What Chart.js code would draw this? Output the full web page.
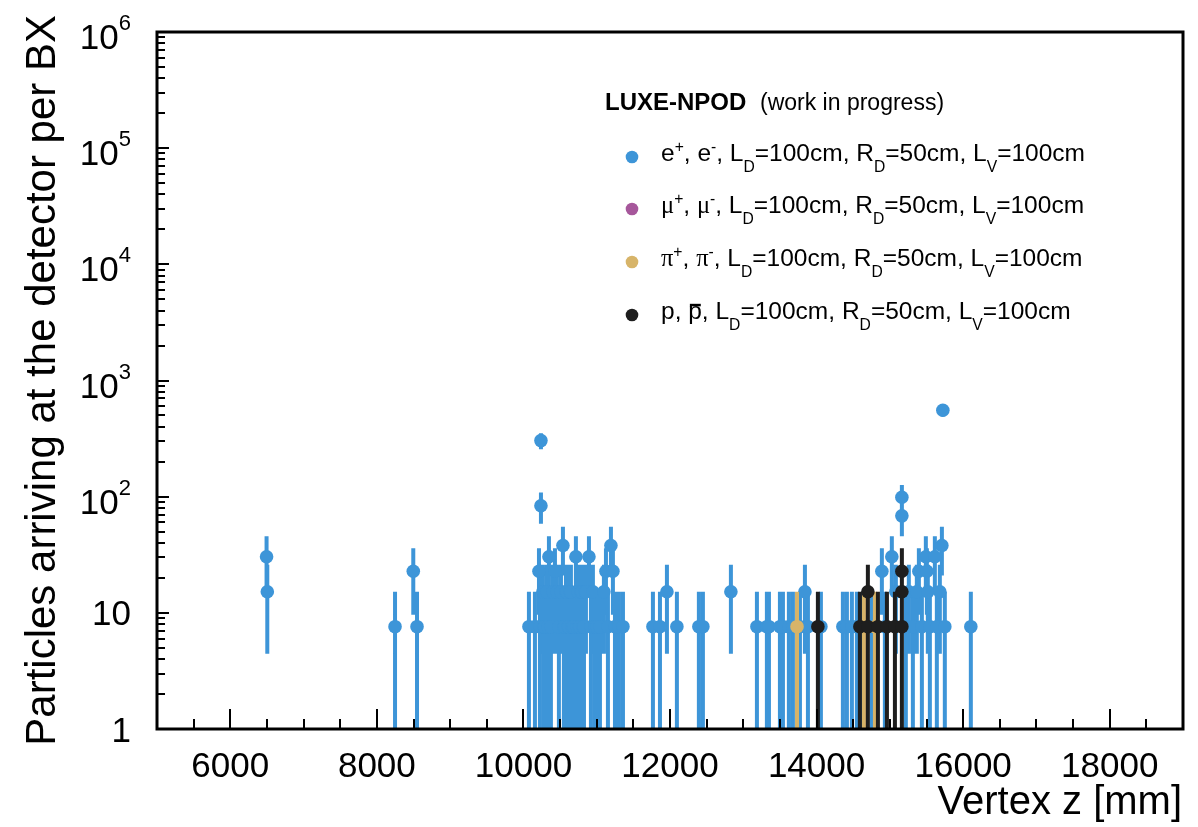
<!DOCTYPE html>
<html>
<head>
<meta charset="utf-8">
<title>Particles arriving at the detector per BX</title>
<script src="https://cdn.jsdelivr.net/npm/chart.js@4.4.1/dist/chart.umd.min.js"></script>
<style>
  html, body { margin: 0; padding: 0; background: #ffffff; }
  #plot { display: block; }
</style>
</head>
<body>
<canvas id="plot" width="1198" height="827"></canvas>
<script>
// ---------- axes ----------
const zRange = [5000, 19000];          // vertex z [mm]
const countRange = [1, 1e6];           // particles per BX (log)
const zTickLabels = [6000, 8000, 10000, 12000, 14000, 16000, 18000];
const zMinorStep = 500;
const countDecades = [0, 1, 2, 3, 4, 5, 6];

// one simulated particle corresponds to this many particles per BX;
// the vertical error bars are the Poisson errors of the weighted counts
const EVENT_WEIGHT = 7.6;

// ---------- e+, e- ----------
const electronZ = [
  6495, 6505, 8248, 8497, 8548,
  10075, 10157, 10212, 10225, 10239, 10239, 10266, 10280, 10293, 10321, 10335, 10348, 10375, 10403,
  10430, 10457, 10484, 10512, 10539, 10552, 10566, 10580, 10594, 10608, 10621, 10635, 10648, 10662,
  10676, 10690, 10716, 10730, 10744, 10757, 10771, 10785, 10798, 10812, 10826, 10840, 10853, 10894,
  10921, 10948, 10976, 11003, 11044, 11098, 11126, 11153, 11194, 11221, 11249, 11303, 11358,
  11767, 11863, 11958, 12094, 12394, 12449, 12831,
  13186, 13322, 13350, 13500, 13541, 13622, 13677, 13773, 13841, 13882, 14059,
  14359, 14414, 14482, 14550, 14632, 14755, 14891, 14932, 15027, 15082, 15164, 15164,
  15218, 15259, 15314, 15368, 15396, 15437, 15491, 15505, 15518, 15546, 15614, 15641,
  15682, 15710, 15723, 15750, 16105
];
const electronCount = [
  30.4, 15.2, 7.6, 22.8, 7.6,
  7.6, 7.6, 22.8, 7.6, 304, 83.6, 15.2, 7.6, 7.6, 15.2, 7.6, 30.4, 7.6, 15.2,
  22.8, 15.2, 7.6, 15.2, 38, 7.6, 7.6, 15.2, 15.2, 7.6, 7.6, 15.2, 15.2, 7.6,
  7.6, 7.6, 30.4, 7.6, 15.2, 7.6, 7.6, 15.2, 15.2, 7.6, 7.6, 15.2, 15.2, 30.4,
  7.6, 15.2, 7.6, 7.6, 7.6, 15.2, 22.8, 7.6, 38, 22.8, 7.6, 7.6, 7.6,
  7.6, 7.6, 15.2, 7.6, 7.6, 7.6, 15.2,
  7.6, 7.6, 7.6, 7.6, 7.6, 7.6, 7.6, 7.6, 15.2, 7.6, 7.6,
  7.6, 7.6, 7.6, 7.6, 7.6, 7.6, 22.8, 7.6, 30.4, 15.2, 98.8, 68.4,
  7.6, 15.2, 7.6, 15.2, 22.8, 7.6, 30.4, 22.8, 15.2, 7.6, 30.4, 7.6,
  15.2, 38, 555, 7.6, 7.6
];

// ---------- mu+, mu- ----------
const muonZ = [14687];
const muonCount = [7.6];

// ---------- pi+, pi- ----------
const pionZ = [13733, 14646, 14796];
const pionCount = [7.6, 7.6, 7.6];

// ---------- p, pbar ----------
const protonZ = [14018, 14591, 14700, 14700, 14837, 14960, 15069, 15164, 15164, 15164];
const protonCount = [7.6, 7.6, 7.6, 15.2, 7.6, 7.6, 7.6, 7.6, 15.2, 22.8];

// ---------- styling ----------
const COLORS = {
  electron: '#3d95d8',
  muon: '#a6579b',
  pion: '#d7b469',
  proton: '#1e1e1e'
};
const SANS = "'Liberation Sans', Arial, Helvetica, sans-serif";
const SERIF = "'Liberation Serif', 'DejaVu Serif', serif";
const MARKER_RADIUS = 6.8;

function toPoints(zs, counts) {
  return zs.map((z, i) => ({ x: z, y: counts[i] }));
}

function makeDataset(label, zs, counts, color, order) {
  return {
    label,
    data: toPoints(zs, counts),
    backgroundColor: color,
    borderColor: color,
    pointRadius: MARKER_RADIUS,
    pointHoverRadius: MARKER_RADIUS,
    pointBorderWidth: 0,
    order
  };
}

// vertical Poisson error bars, drawn just before each dataset's markers
const errorBarPlugin = {
  id: 'errorBars',
  beforeDatasetDraw(chart, args) {
    const { ctx, chartArea: a, scales: { y } } = chart;
    const ds = chart.data.datasets[args.index];
    const meta = args.meta;
    ctx.save();
    ctx.beginPath();
    ctx.rect(a.left, a.top, a.right - a.left, a.bottom - a.top);
    ctx.clip();
    ctx.strokeStyle = ds.borderColor;
    ctx.lineWidth = 4;
    ctx.lineCap = 'butt';
    ctx.beginPath();
    ds.data.forEach((pt, i) => {
      const sigma = Math.sqrt(pt.y * EVENT_WEIGHT);
      const lo = Math.max(pt.y - sigma, countRange[0]);
      const hi = pt.y + sigma;
      const px = meta.data[i].x;
      ctx.moveTo(px, y.getPixelForValue(lo));
      ctx.lineTo(px, y.getPixelForValue(hi));
    });
    ctx.stroke();
    ctx.restore();
  }
};

// text with super/subscripts
function drawRich(ctx, x, y, parts, size) {
  let cx = x;
  ctx.textAlign = 'left';
  ctx.textBaseline = 'alphabetic';
  for (const p of parts) {
    let fs = size, dy = 0;
    if (p.sup) { fs = size * 0.64; dy = -size * 0.38; }
    if (p.sub) { fs = size * 0.64; dy = size * 0.45; }
    ctx.font = `${fs}px ${p.greek ? SERIF : SANS}`;
    ctx.fillText(p.t, cx, y + dy);
    const w = ctx.measureText(p.t).width;
    if (p.bar) ctx.fillRect(cx + w * 0.12, y - size * 0.62, w * 0.8, 2.5);
    cx += w;
  }
}

const detectorTail = [
  { t: ', L' }, { t: 'D', sub: true }, { t: '=100cm, R' }, { t: 'D', sub: true },
  { t: '=50cm, L' }, { t: 'V', sub: true }, { t: '=100cm' }
];
const legendEntries = [
  { color: COLORS.electron, parts: [{ t: 'e' }, { t: '+', sup: true }, { t: ', e' }, { t: '-', sup: true }, ...detectorTail] },
  { color: COLORS.muon, parts: [{ t: 'μ', greek: true }, { t: '+', sup: true }, { t: ', ' }, { t: 'μ', greek: true }, { t: '-', sup: true }, ...detectorTail] },
  { color: COLORS.pion, parts: [{ t: 'π', greek: true }, { t: '+', sup: true }, { t: ', ' }, { t: 'π', greek: true }, { t: '-', sup: true }, ...detectorTail] },
  { color: COLORS.proton, parts: [{ t: 'p, ' }, { t: 'p', bar: true }, ...detectorTail] }
];

// frame, ticks, labels, titles and legend
const framePlugin = {
  id: 'frameAxes',
  afterDraw(chart) {
    const { ctx, chartArea: a, scales: { x, y } } = chart;
    ctx.save();
    ctx.fillStyle = '#000';
    ctx.strokeStyle = '#000';

    // tick marks
    ctx.lineWidth = 2;
    ctx.beginPath();
    for (let v = zRange[0] + zMinorStep; v < zRange[1]; v += zMinorStep) {
      const px = Math.round(x.getPixelForValue(v));
      const len = (v % 2000 === 0) ? 20 : 10;
      ctx.moveTo(px, a.bottom);
      ctx.lineTo(px, a.bottom - len);
    }
    for (let d = countDecades[0]; d < countDecades[countDecades.length - 1]; d++) {
      for (let k = 1; k <= 9; k++) {
        const py = Math.round(y.getPixelForValue(k * Math.pow(10, d)));
        const len = k === 1 ? 12 : 8;
        ctx.moveTo(a.left, py);
        ctx.lineTo(a.left + len, py);
      }
    }
    ctx.stroke();

    // frame
    ctx.lineWidth = 3;
    ctx.strokeRect(a.left, a.top, a.right - a.left, a.bottom - a.top);

    // x tick labels
    ctx.font = `35px ${SANS}`;
    ctx.textAlign = 'center';
    ctx.textBaseline = 'alphabetic';
    zTickLabels.forEach(v => {
      ctx.fillText(String(v), x.getPixelForValue(v), 777);
    });

    // y tick labels
    const labelRight = 131;
    countDecades.forEach(d => {
      const py = y.getPixelForValue(Math.pow(10, d));
      ctx.textAlign = 'right';
      if (d === 0 || d === 1) {
        ctx.font = `35px ${SANS}`;
        ctx.fillText(d === 0 ? '1' : '10', labelRight, py + 12.5);
      } else {
        ctx.font = `22px ${SANS}`;
        const sup = String(d);
        const sw = ctx.measureText(sup).width;
        ctx.fillText(sup, labelRight, py + 17 - 19);
        ctx.font = `35px ${SANS}`;
        ctx.fillText('10', labelRight - sw, py + 17);
      }
    });

    // axis titles
    ctx.font = `40px ${SANS}`;
    ctx.textAlign = 'right';
    ctx.fillText('Vertex z [mm]', 1182, 814);

    ctx.save();
    ctx.translate(55, 15);
    ctx.rotate(-Math.PI / 2);
    ctx.font = `42px ${SANS}`;
    ctx.textAlign = 'right';
    ctx.fillText('Particles arriving at the detector per BX', 0, 0);
    ctx.restore();

    // legend
    ctx.textAlign = 'left';
    ctx.font = `bold 24px ${SANS}`;
    ctx.fillText('LUXE-NPOD', 605, 110);
    ctx.font = `23px ${SANS}`;
    ctx.fillText('(work in progress)', 760, 110);

    const baselines = [161, 213, 266, 319];
    legendEntries.forEach((e, i) => {
      const by = baselines[i];
      ctx.fillStyle = e.color;
      ctx.beginPath();
      ctx.arc(632, by - 4, 6.3, 0, Math.PI * 2);
      ctx.fill();
      ctx.fillStyle = '#000';
      drawRich(ctx, 661, by, e.parts, 24.5);
    });

    ctx.restore();
  }
};

new Chart(document.getElementById('plot').getContext('2d'), {
  type: 'scatter',
  data: {
    datasets: [
      makeDataset('e+, e-', electronZ, electronCount, COLORS.electron, 4),
      makeDataset('mu+, mu-', muonZ, muonCount, COLORS.muon, 3),
      makeDataset('pi+, pi-', pionZ, pionCount, COLORS.pion, 2),
      makeDataset('p, pbar', protonZ, protonCount, COLORS.proton, 1)
    ]
  },
  options: {
    responsive: false,
    animation: false,
    devicePixelRatio: 1,
    layout: { padding: { left: 157, right: 15, top: 32, bottom: 98 } },
    scales: {
      x: { type: 'linear', min: zRange[0], max: zRange[1], display: false },
      y: { type: 'logarithmic', min: countRange[0], max: countRange[1], display: false }
    },
    plugins: {
      legend: { display: false },
      tooltip: { enabled: false }
    }
  },
  plugins: [errorBarPlugin, framePlugin]
});
</script>
</body>
</html>
